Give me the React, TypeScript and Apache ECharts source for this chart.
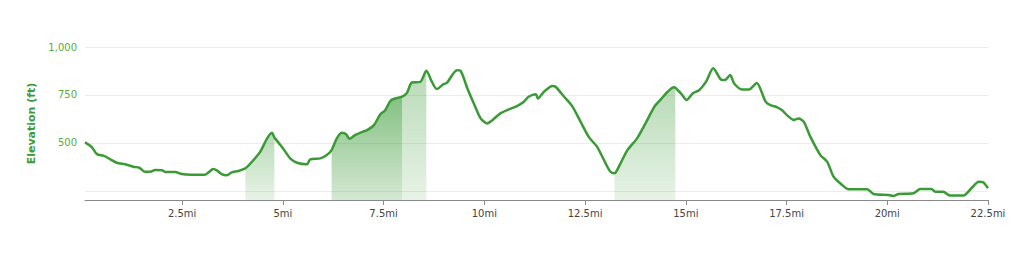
import React, { useEffect, useRef } from "react";
import * as echarts from "echarts";

const miles = [
  0.09, 0.25, 0.39, 0.55, 0.72, 0.88, 1.09, 1.29, 1.44, 1.58, 1.71, 1.83, 2.0, 2.08, 2.33, 2.49, 2.74, 3.07, 3.17, 3.27,
  3.37, 3.48, 3.61, 3.73, 3.9, 4.07, 4.27, 4.44, 4.61, 4.73, 4.79, 4.94, 5.06, 5.18, 5.35, 5.6, 5.68, 5.93, 6.09, 6.21,
  6.34, 6.46, 6.57, 6.65, 6.79, 6.97, 7.09, 7.26, 7.42, 7.54, 7.67, 7.79, 7.96, 8.08, 8.2, 8.41, 8.56, 8.7, 8.82, 8.99,
  9.07, 9.32, 9.41, 9.58, 9.74, 9.91, 10.07, 10.2, 10.4, 10.61, 10.81, 10.98, 11.1, 11.28, 11.33, 11.48, 11.69, 11.77,
  11.98, 12.18, 12.39, 12.6, 12.8, 13.01, 13.13, 13.23, 13.38, 13.55, 13.79, 14.0, 14.22, 14.38, 14.55, 14.7, 14.74,
  14.88, 15.02, 15.17, 15.33, 15.5, 15.68, 15.87, 15.97, 16.1, 16.2, 16.4, 16.57, 16.76, 16.98, 17.1, 17.27, 17.39,
  17.51, 17.68, 17.8, 17.93, 18.09, 18.34, 18.51, 18.67, 18.88, 19.04, 19.5, 19.66, 20.03, 20.16, 20.28, 20.65, 20.82,
  21.1, 21.19, 21.39, 21.56, 21.89, 22.1, 22.27, 22.38, 22.5,
];

const elevationFt = [
  503, 480, 441, 434, 415, 397, 389, 376, 371, 350, 350, 359, 358, 349, 349, 338, 335, 335, 349, 364,
  356, 338, 332, 347, 354, 368, 411, 455, 524, 553, 529, 489, 455, 420, 397, 389, 415, 420, 437, 463,
  524, 553, 546, 522, 541, 558, 567, 593, 650, 671, 720, 732, 741, 761, 815, 818, 876, 818, 781, 807,
  813, 879, 876, 784, 706, 628, 602, 619, 654, 675, 692, 715, 741, 754, 732, 767, 797, 793,
  741, 692, 610, 529, 480, 394, 350, 342, 394, 463, 524, 602, 689, 727, 767, 790, 788,
  758, 724, 758, 775, 818, 889, 831, 828, 854, 810, 779, 779, 813, 715, 697, 686, 671,
  645, 620, 628, 610, 533, 437, 402, 324, 281, 259, 259, 234, 229, 224, 234, 238, 260,
  260, 246, 246, 226, 226, 267, 298, 295, 264,
];

// shaded stretches of the route [from mi, to mi]
const shadedRanges = [
  [4.07, 4.79],
  [6.21, 7.96],
  [7.96, 8.56],
  [13.23, 14.74],
];
const shadedStrong = [false, true, false, false];

const xTickValues = [2.5, 5, 7.5, 10, 12.5, 15, 17.5, 20, 22.5];
const yLabelValues = [500, 750, 1000];
const yGridValues = [250, 500, 750, 1000];

const LINE = "#3a9a36";

export default function App() {
  const ref = useRef<HTMLDivElement>(null);

  useEffect(() => {
    if (!ref.current) return;
    const chart = echarts.init(ref.current, undefined, { renderer: "svg" });
    const points = miles.map((m, i) => [m, elevationFt[i]]);

    const shadeSeries = shadedRanges.map((r, i) => {
      const strong = shadedStrong[i];
      return {
        type: "line",
        data: points.filter((p) => p[0] >= r[0] && p[0] <= r[1]),
        smooth: 0.25,
        symbol: "none",
        silent: true,
        z: 1,
        lineStyle: { width: 0, opacity: 0 },
        areaStyle: {
          origin: "start",
          opacity: 1,
          color: new echarts.graphic.LinearGradient(0, 0, 0, 1, [
            { offset: 0, color: strong ? "rgba(58,154,54,0.62)" : "rgba(58,154,54,0.36)" },
            { offset: 1, color: strong ? "rgba(58,154,54,0.22)" : "rgba(58,154,54,0.12)" },
          ]),
        },
      };
    });

    chart.setOption({
      animation: false,
      grid: { left: 85, right: 36, top: 47, bottom: 58 },
      xAxis: {
        type: "value",
        min: 0.09,
        max: 22.5,
        axisLine: { show: true, lineStyle: { color: "#8a8a8a", width: 1 } },
        axisTick: { show: true, length: 5, lineStyle: { color: "#8a8a8a" }, customValues: xTickValues },
        axisLabel: {
          customValues: xTickValues,
          formatter: (v: number) => `${v}mi`,
          color: "#444",
          fontSize: 10,
          fontFamily: "DejaVu Sans",
          margin: 8,
        },
        splitLine: { show: false },
      },
      yAxis: {
        type: "value",
        min: 203,
        max: 1000,
        name: "Elevation (ft)",
        nameLocation: "middle",
        nameGap: 37,
        nameTextStyle: { color: "#3f9c35", fontWeight: "bold", fontSize: 11, fontFamily: "DejaVu Sans" },
        axisLine: { show: false },
        axisTick: { show: false, customValues: yGridValues },
        axisLabel: {
          customValues: yLabelValues,
          formatter: (v: number) => v.toLocaleString("en-US"),
          color: "#5aac38",
          fontSize: 10,
          fontFamily: "DejaVu Sans",
          margin: 8,
        },
        splitLine: { show: true, lineStyle: { color: "#ececec", width: 1 } },
      },
      series: [
        ...shadeSeries,
        {
          type: "line",
          data: points,
          smooth: 0.25,
          symbol: "none",
          z: 3,
          lineStyle: { color: LINE, width: 2.5 },
        },
      ],
    });
    return () => chart.dispose();
  }, []);

  return (
    <div
      ref={ref}
      style={{ position: "absolute", left: 0, top: 0, width: 1024, height: 258, background: "#fff" }}
    />
  );
}
